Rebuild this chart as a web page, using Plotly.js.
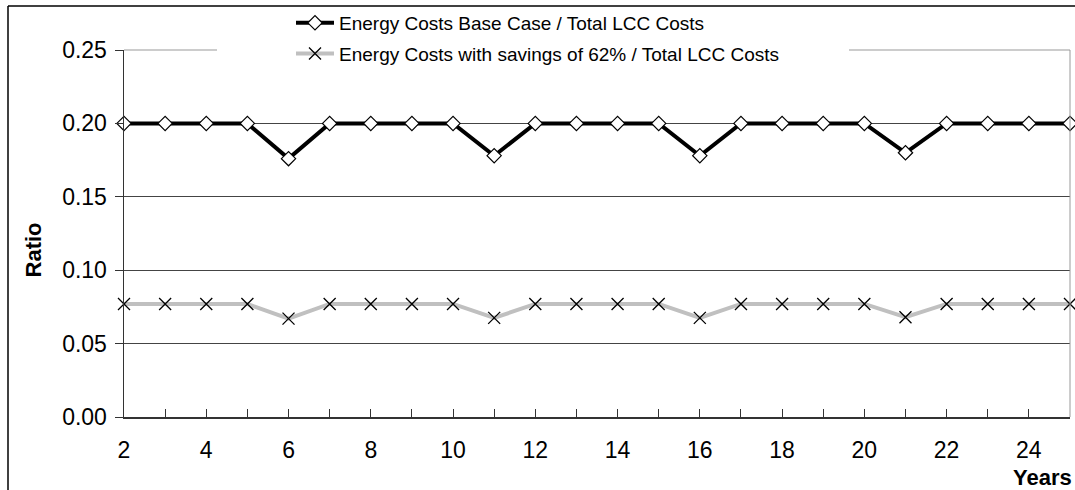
<!DOCTYPE html>
<html>
<head>
<meta charset="utf-8">
<script src="https://cdn.plot.ly/plotly-3.0.1.min.js"></script>
<style>
  html, body { margin: 0; padding: 0; background: #fff; }
  #chart { width: 1075px; height: 490px; }
</style>
</head>
<body>
<div id="chart"></div>
<script>
const years = [2,3,4,5,6,7,8,9,10,11,12,13,14,15,16,17,18,19,20,21,22,23,24,25];
const tickLabels = ['2','','4','','6','','8','','10','','12','','14','','16','','18','','20','','22','','24',''];
const baseRatio = [0.200,0.200,0.200,0.200,0.176,0.200,0.200,0.200,0.200,0.178,0.200,0.200,0.200,0.200,0.178,0.200,0.200,0.200,0.200,0.180,0.200,0.200,0.200,0.200];
const savingsRatio = [0.077,0.077,0.077,0.077,0.067,0.077,0.077,0.077,0.077,0.0675,0.077,0.077,0.077,0.077,0.0675,0.077,0.077,0.077,0.077,0.068,0.077,0.077,0.077,0.077];
const seriesNames = ['Energy Costs Base Case / Total LCC Costs', 'Energy Costs with savings of 62% / Total LCC Costs'];
const yTicks = [0, 0.05, 0.10, 0.15, 0.20, 0.25];

const FONT = 'Liberation Sans, Arial, sans-serif';

const traces = [
  {
    x: years, y: baseRatio, name: seriesNames[0], type: 'scatter', mode: 'lines+markers',
    legendgroup: 'a', cliponaxis: false,
    line: {color: '#000000', width: 4},
    marker: {symbol: 'diamond', size: 11, color: '#ffffff', line: {color: '#000000', width: 1.2}}
  },
  {
    x: years, y: savingsRatio, name: seriesNames[1], type: 'scatter', mode: 'lines+markers',
    legendgroup: 'b', cliponaxis: false,
    line: {color: '#c0c0c0', width: 4},
    marker: {symbol: 'x-thin-open', size: 12, color: '#000000', line: {color: '#000000', width: 1.3}}
  }
];

const W = 946, H = 368; // plot area size
const layout = {
  width: 1075, height: 490,
  margin: {l: 124, r: 5, t: 49, b: 73, pad: 0},
  paper_bgcolor: '#ffffff', plot_bgcolor: '#ffffff',
  font: {family: FONT, color: '#000000', size: 23},
  showlegend: true,
  legend: {
    x: (291 - 124) / W, y: (417 - 4) / H, xanchor: 'left', yanchor: 'top',
    bgcolor: 'rgba(0,0,0,0)', borderwidth: 0,
    font: {family: FONT, size: 19, color: '#000000'},
    tracegroupgap: 3, itemwidth: 38
  },
  xaxis: {
    range: [2, 25], tickvals: years, ticktext: tickLabels,
    ticks: 'inside', ticklen: 8, tickcolor: '#333333', tickwidth: 1,
    showline: true, linecolor: '#333333', linewidth: 1.5,
    showgrid: false, zeroline: false,
    tickfont: {family: FONT, size: 23, color: '#000000'},
    ticklabelstandoff: 12
  },
  yaxis: {
    range: [0, 0.25], tickvals: yTicks, tickformat: '.2f',
    ticks: 'outside', ticklen: 8, tickcolor: '#333333', tickwidth: 1,
    showline: true, linecolor: '#333333', linewidth: 1.5,
    showgrid: true, gridcolor: '#444444', gridwidth: 1, zeroline: false,
    tickfont: {family: FONT, size: 23, color: '#000000'},
    ticklabelstandoff: 3
  },
  shapes: [
    // plot frame (gray top & right)
    {type: 'line', xref: 'paper', yref: 'paper', x0: 0, x1: (217 - 124) / W, y0: 1, y1: 1, line: {color: '#999999', width: 1}},
    {type: 'line', xref: 'paper', yref: 'paper', x0: (849 - 124) / W, x1: 1, y0: 1, y1: 1, line: {color: '#999999', width: 1}},
    {type: 'line', xref: 'paper', yref: 'paper', x0: 1, x1: 1, y0: 0, y1: 1, line: {color: '#999999', width: 1}},
    // outer chart border (left & top)
    {type: 'line', xref: 'paper', yref: 'paper', x0: (8 - 124) / W, x1: (8 - 124) / W, y0: (417 - 5) / H, y1: (417 - 495) / H, line: {color: '#000000', width: 1.5}},
    {type: 'line', xref: 'paper', yref: 'paper', x0: (8 - 124) / W, x1: (1080 - 124) / W, y0: (417 - 5) / H, y1: (417 - 5) / H, line: {color: '#000000', width: 1.5}}
  ],
  annotations: [
    {text: '<b>Ratio</b>', xref: 'paper', yref: 'paper', x: (33 - 124) / W, y: (417 - 250) / H,
     xanchor: 'center', yanchor: 'middle', textangle: -90, showarrow: false,
     font: {family: FONT, size: 22, color: '#000000'}},
    {text: '<b>Years</b>', xref: 'paper', yref: 'paper', x: (1074 - 124) / W, y: (417 - 478) / H,
     xanchor: 'right', yanchor: 'middle', showarrow: false,
     font: {family: FONT, size: 22, color: '#000000'}}
  ]
};

Plotly.newPlot('chart', traces, layout, {displayModeBar: false, staticPlot: true});
</script>
</body>
</html>
